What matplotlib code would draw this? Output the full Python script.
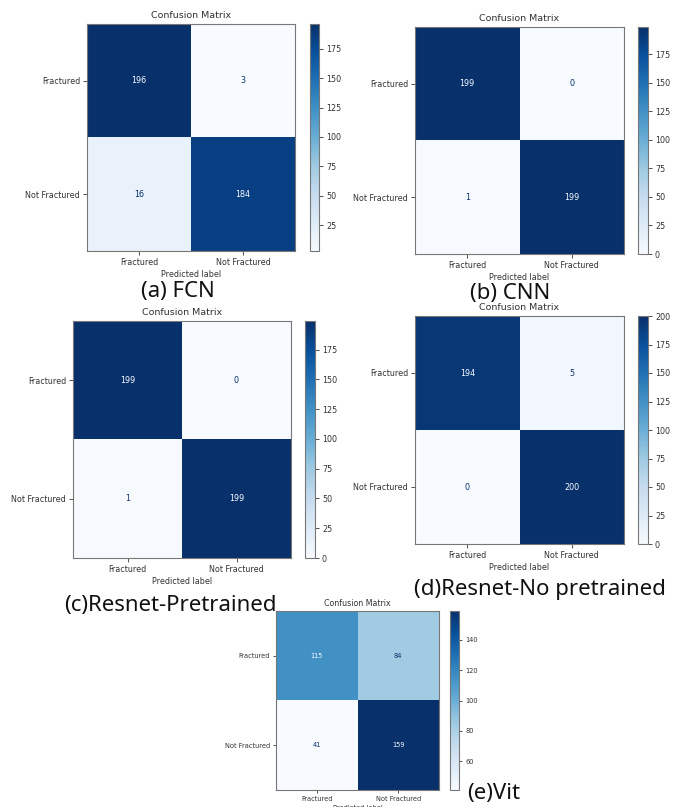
import numpy as np
import matplotlib
matplotlib.use('Agg')
import matplotlib.pyplot as plt

# Etiquetas de las clases
clases = ['Fractured', 'Not Fractured']

# Matrices de confusion de cada modelo (filas = real, columnas = prediccion)
cm_fcn = [[196, 3], [16, 184]]
cm_cnn = [[199, 0], [1, 199]]
cm_resnet_pre = [[199, 0], [1, 199]]
cm_resnet_nopre = [[194, 5], [0, 200]]
cm_vit = [[115, 84], [41, 159]]

# Ticks de cada barra de color
ticks_fcn = [25, 50, 75, 100, 125, 150, 175]
ticks_cnn = [0, 25, 50, 75, 100, 125, 150, 175]
ticks_resnet_pre = [0, 25, 50, 75, 100, 125, 150, 175]
ticks_resnet_nopre = [0, 25, 50, 75, 100, 125, 150, 175, 200]
ticks_vit = [60, 80, 100, 120, 140]

titulos = ['(a) FCN', '(b) CNN', '(c)Resnet-Pretrained', '(d)Resnet-No pretrained', '(e)Vit']

W, H = 678, 807
fig = plt.figure(figsize=(W / 100, H / 100), dpi=100)
cmap = plt.get_cmap('Blues')
FS = 5.8  # tamano base del texto pequeno


def caja(x0, y0, x1, y1):
    # convierte una caja en pixeles a coordenadas de la figura
    return [x0 / W, 1 - y1 / H, (x1 - x0) / W, (y1 - y0) / H]


def matriz(cm, ticks, ax_px, cb_px, esc):
    cm = np.array(cm)
    ax = fig.add_axes(caja(*ax_px))
    cax = fig.add_axes(caja(*cb_px))
    im = ax.imshow(cm, cmap=cmap, aspect='auto')
    # color del texto como en sklearn
    umbral = (cm.max() + cm.min()) / 2
    for i in range(cm.shape[0]):
        for j in range(cm.shape[1]):
            color = cmap(0.0) if cm[i, j] >= umbral else cmap(1.0)
            ax.text(j, i, str(cm[i, j]), ha='center', va='center', color=color, fontsize=FS * esc)
    ax.set_xticks(range(len(clases)))
    ax.set_yticks(range(len(clases)))
    ax.set_xticklabels(clases)
    ax.set_yticklabels(clases)
    ax.tick_params(labelsize=FS * esc, length=3 * esc, width=0.6, colors='#333333', pad=2)
    ax.set_xlabel('Predicted label', fontsize=FS * esc, color='#333333', labelpad=2)
    ax.set_title('Confusion Matrix', fontsize=6.8 * esc, color='#333333', pad=4 * esc)
    for s in ax.spines.values():
        s.set_color('#777777')
        s.set_linewidth(0.8)
    cb = fig.colorbar(im, cax=cax, ticks=ticks)
    cb.ax.tick_params(labelsize=FS * esc, length=3 * esc, width=0.6, colors='#333333', pad=2)
    cb.outline.set_edgecolor('#777777')
    cb.outline.set_linewidth(0.8)
    return ax


matriz(cm_fcn, ticks_fcn, (87, 24, 295, 251), (310, 24, 319, 251), 1.0)
matriz(cm_cnn, ticks_cnn, (415, 27, 624, 254), (638, 27, 648, 254), 1.0)
matriz(cm_resnet_pre, ticks_resnet_pre, (73, 321, 291, 558), (305, 321, 315, 558), 1.0)
matriz(cm_resnet_nopre, ticks_resnet_nopre, (415, 316, 624, 544), (638, 316, 648, 544), 1.0)
matriz(cm_vit, ticks_vit, (276, 611, 439, 790), (450, 611, 459, 790), 0.83)

# Subtitulos de cada panel
pos_titulos = [(178, 291), (510, 294), (170, 606), (540, 589), (494, 794)]
for txt, (x, y) in zip(titulos, pos_titulos):
    fig.text(x / W, 1 - y / H, txt, ha='center', va='center', fontsize=16,
             family='Noto Sans', color='#111111')

plt.savefig('out.png', dpi=100)
